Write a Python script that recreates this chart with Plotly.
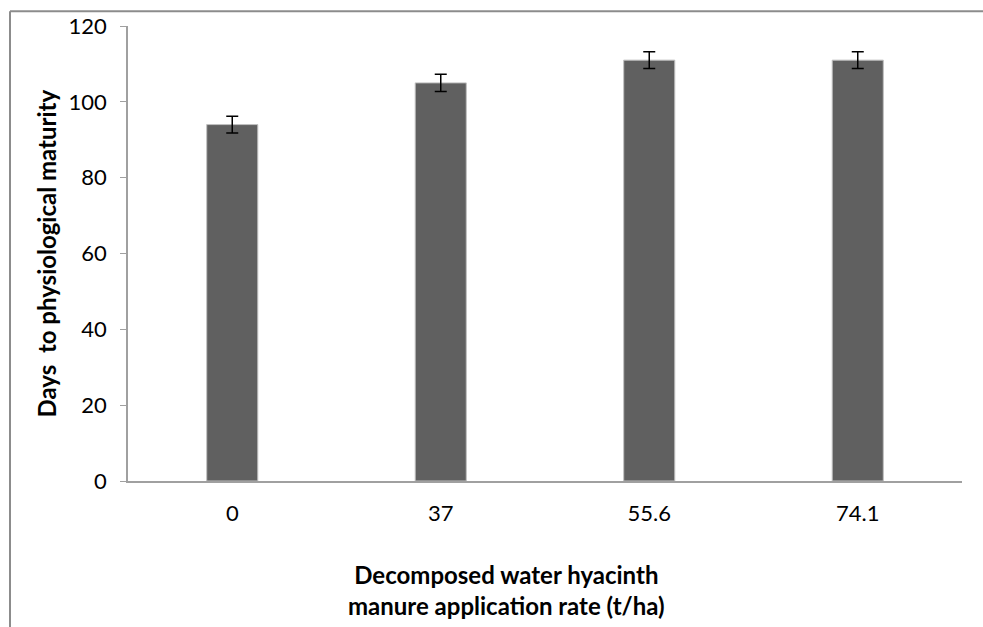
import plotly.graph_objects as go

categories = ["0", "37", "55.6", "74.1"]
days = [94, 105, 111, 111]
errors = [2.2, 2.3, 2.2, 2.2]
y_ticks = [0, 20, 40, 60, 80, 100, 120]

FONT = "Lato"
L, R, T, B = 128, 21, 21, 146
W, H = 983, 627
pw = W - L - R
ph = H - T - B

fig = go.Figure()
fig.add_trace(go.Bar(
    x=categories, y=days,
    marker=dict(color="#606060", line=dict(color="#c0c0c0", width=1)),
    error_y=dict(type="data", array=errors, visible=True, color="#000000", thickness=1.5, width=6),
    width=0.245,
))

fig.update_layout(
    width=W, height=H,
    margin=dict(l=L, r=R, t=T, b=B),
    plot_bgcolor="white", paper_bgcolor="white",
    showlegend=False,
    font=dict(family=FONT, size=22, color="#000000"),
    xaxis=dict(type="category", showline=True, linecolor="#a0a0a0", linewidth=1.5,
               ticks="", showgrid=False, tickfont=dict(size=22, family=FONT),
               ticklabelstandoff=12),
    yaxis=dict(range=[0, 120], tickvals=y_ticks, showline=True, linecolor="#a0a0a0",
               linewidth=1.5, ticks="outside", ticklen=6, tickcolor="#a0a0a0",
               showgrid=False, zeroline=False, tickfont=dict(size=22, family=FONT),
               ticklabelstandoff=9),
)

# chart border (left and top visible, right/bottom cut off)
bx = (10 - L) / pw
by = (H - B - 6) / ph
fig.add_shape(type="line", xref="paper", yref="paper", x0=bx, x1=bx, y0=-1, y1=by,
              line=dict(color="#8c8c8c", width=2))
fig.add_shape(type="line", xref="paper", yref="paper", x0=bx, x1=2, y0=by, y1=by,
              line=dict(color="#8c8c8c", width=2))

# y-axis title
fig.add_annotation(xref="paper", yref="paper", x=(46 - L) / pw, y=(H - B - 251) / ph,
                   text="<b>Days  to physiological maturity</b>", textangle=-90,
                   showarrow=False, font=dict(size=24, family=FONT), xanchor="center", yanchor="middle")
# x-axis title
fig.add_annotation(xref="paper", yref="paper", x=(506 - L) / pw, y=(H - B - 591) / ph,
                   text="<b>Decomposed water hyacinth<br>manure application rate (t/ha)</b>",
                   showarrow=False, font=dict(size=24, family=FONT), xanchor="center", yanchor="middle")

fig.write_html("out.html")
